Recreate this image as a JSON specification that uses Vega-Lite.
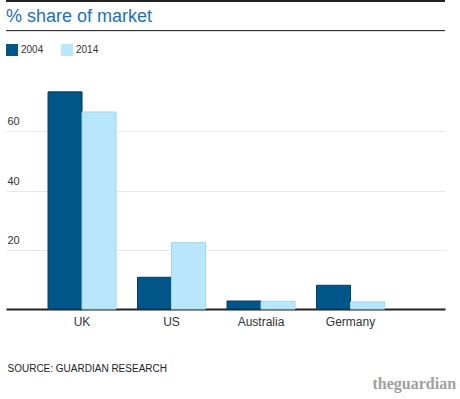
{
  "$schema": "https://vega.github.io/schema/vega-lite/v6.json",
  "width": 439,
  "height": 237,
  "autosize": "none",
  "padding": {"left": 6, "top": 72, "right": 15, "bottom": 90},
  "background": "white",
  "title": {
    "text": "% share of market",
    "anchor": "start",
    "frame": "group",
    "font": "Liberation Sans",
    "fontSize": 18,
    "fontWeight": "normal",
    "color": "#2270b8",
    "baseline": "alphabetic",
    "offset": 0,
    "dy": 39.5
  },
  "config": {
    "view": {"stroke": null},
    "font": "Liberation Sans"
  },
  "data": {
    "values": [
      {"country": "UK", "year": "2004", "share": 73.3},
      {"country": "UK", "year": "2014", "share": 66.5},
      {"country": "US", "year": "2004", "share": 10.7},
      {"country": "US", "year": "2014", "share": 22.4},
      {"country": "Australia", "year": "2004", "share": 2.7},
      {"country": "Australia", "year": "2014", "share": 2.6},
      {"country": "Germany", "year": "2004", "share": 8.0},
      {"country": "Germany", "year": "2014", "share": 2.4}
    ]
  },
  "layer": [
    {
      "mark": {"type": "bar", "strokeWidth": 1},
      "encoding": {
        "x": {
          "field": "country",
          "type": "nominal",
          "sort": ["UK", "US", "Australia", "Germany"],
          "scale": {"paddingInner": 0.24, "paddingOuter": 0.5726, "align": 0.41},
          "axis": {
            "title": "SOURCE: GUARDIAN RESEARCH",
            "titleX": 1,
            "titleY": 62,
            "titleAlign": "left",
            "titleAnchor": null,
            "titleBaseline": "alphabetic",
            "titleFontSize": 10,
            "titleFontWeight": "normal",
            "titleColor": "#222222",
            "labelAngle": 0,
            "labelFontSize": 12,
            "labelColor": "#333333",
            "labelBaseline": "alphabetic",
            "labelPadding": 16,
            "ticks": false,
            "domainColor": "#222222",
            "domainWidth": 2
          }
        },
        "xOffset": {"field": "year", "type": "nominal", "scale": {"paddingInner": 0, "paddingOuter": 0}},
        "y": {
          "field": "share",
          "type": "quantitative",
          "scale": {"domain": [0, 80], "nice": false},
          "axis": {
            "values": [20, 40, 60],
            "title": "theguardian",
            "titleAngle": 0,
            "titleX": 366,
            "titleY": 316,
            "titleAlign": "left",
            "titleBaseline": "alphabetic",
            "titleFont": "Liberation Serif",
            "titleFontSize": 16,
            "titleFontWeight": "bold",
            "titleColor": "#a0a0a0",
            "grid": true,
            "gridColor": "#e6e6e6",
            "domain": false,
            "ticks": false,
            "labelAlign": "left",
            "labelBaseline": "alphabetic",
            "labelPadding": -1,
            "labelOffset": -6.5,
            "labelFontSize": 11,
            "labelColor": "#333333"
          }
        },
        "color": {
          "field": "year",
          "type": "nominal",
          "scale": {"domain": ["2004", "2014"], "range": ["#005689", "#b8e7fb"]},
          "legend": {
            "title": null,
            "orient": "none",
            "legendX": 0,
            "legendY": -28,
            "direction": "horizontal",
            "symbolType": "square",
            "symbolSize": 144,
            "symbolStrokeWidth": 0,
            "labelFontSize": 10,
            "labelColor": "#333333",
            "labelOffset": 3,
            "columnPadding": 17,
            "padding": 0
          }
        },
        "stroke": {
          "field": "year",
          "type": "nominal",
          "scale": {"domain": ["2004", "2014"], "range": ["#003e66", "#9ed6f0"]},
          "legend": null
        }
      }
    },
    {
      "mark": {"type": "rule", "color": "#333333", "strokeWidth": 1},
      "encoding": {"y": {"datum": 94}}
    },
    {
      "mark": {"type": "rule", "color": "#222222", "strokeWidth": 1},
      "encoding": {"y": {"datum": 104}}
    }
  ]
}
